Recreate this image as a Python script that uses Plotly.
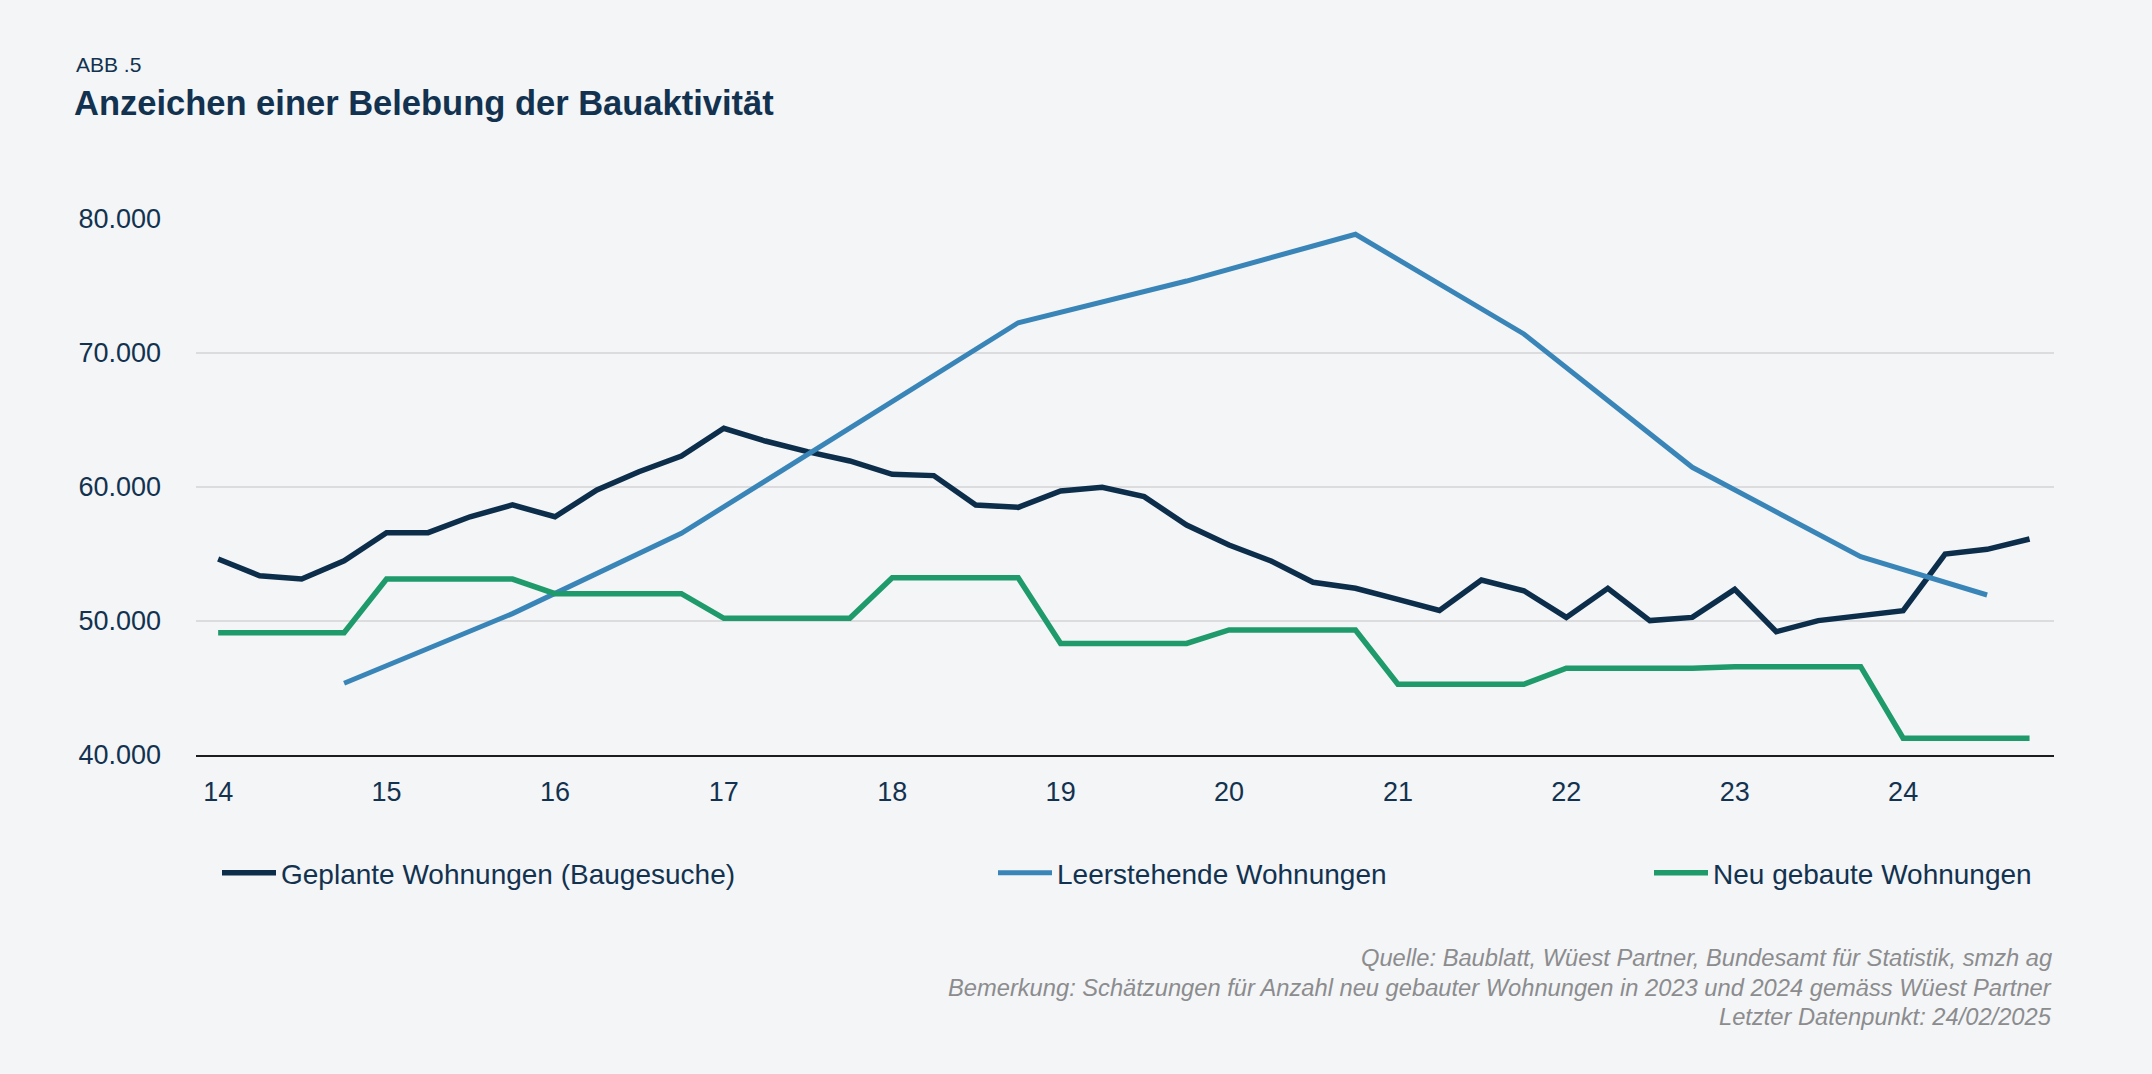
import pandas as pd
import plotly.graph_objects as go

# ---- data ----
quarters = pd.date_range("2014-01-01", periods=44, freq="QS")

geplante = [54630, 53380, 53130, 54500,
            56590, 56590, 57780, 58660,
            57780, 59780, 61140, 62310,
            64380, 63430, 62640, 61940,
            60950, 60850, 58660, 58480,
            59700, 59980, 59280, 57160,
            55670, 54480, 52890, 52440,
            51620, 50790, 53060, 52260,
            50270, 52440, 50030, 50270,
            52360, 49200, 50030, 50370,
            50770, 55000, 55350, 56120]

neu_gebaut = [49130, 49130, 49130, 49130,
              53130, 53130, 53130, 53130,
              52040, 52040, 52040, 52040,
              50200, 50200, 50200, 50200,
              53230, 53230, 53230, 53230,
              48330, 48330, 48330, 48330,
              49330, 49330, 49330, 49330,
              45280, 45280, 45280, 45280,
              46470, 46470, 46470, 46470,
              46590, 46590, 46590, 46590,
              41250, 41250, 41250, 41250]

leer_dates = ["2014-10-01", "2015-10-01", "2016-10-01", "2017-10-01", "2018-10-01",
              "2019-10-01", "2020-10-01", "2021-10-01", "2022-10-01", "2023-10-01",
              "2024-07-01"]
leerstehend = [45350, 50550, 56540, 64400, 72260, 75370, 78860, 71420, 61470, 54800, 51940]

y_ticks = [40000, 50000, 60000, 70000, 80000]
y_ticktext = ["40.000", "50.000", "60.000", "70.000", "80.000"]

names = ["Geplante Wohnungen (Baugesuche)", "Leerstehende Wohnungen", "Neu gebaute Wohnungen"]
colors = ["#0c2e4b", "#3a85b8", "#1f9a6b"]

# ---- figure ----
W, H = 2152, 1074
BG = "#f3f5f7"
NAVY = "#12324f"
FONT = "Liberation Sans, Arial, sans-serif"

fig = go.Figure()
fig.add_trace(go.Scatter(x=quarters, y=geplante, name=names[0], mode="lines",
                         line=dict(color=colors[0], width=5.5), legend="legend"))
fig.add_trace(go.Scatter(x=pd.to_datetime(leer_dates), y=leerstehend, name=names[1], mode="lines",
                         line=dict(color=colors[1], width=5), legend="legend2"))
fig.add_trace(go.Scatter(x=quarters, y=neu_gebaut, name=names[2], mode="lines",
                         line=dict(color=colors[2], width=5.5), legend="legend3"))

leg_common = dict(orientation="h", xref="container", yref="container", xanchor="left",
                  yanchor="middle", bgcolor="rgba(0,0,0,0)", itemwidth=54,
                  font=dict(family=FONT, size=28, color=NAVY))
leg_y = 1 - 873 / H

foot_font = dict(family=FONT, size=23.7, color="#8c8c8e")

fig.update_layout(
    width=W, height=H,
    paper_bgcolor=BG, plot_bgcolor=BG,
    margin=dict(l=196, r=98, t=219, b=319, autoexpand=False),
    showlegend=True,
    legend=dict(x=(281 - 64) / W, y=leg_y, **leg_common),
    legend2=dict(x=(1057 - 64) / W, y=leg_y, **leg_common),
    legend3=dict(x=(1713 - 64) / W, y=leg_y, **leg_common),
    xaxis=dict(
        type="date",
        range=["2013-11-14", "2024-11-23"],
        tickmode="linear", tick0="2014-01-01", dtick="M12", tickformat="%y",
        showgrid=False, zeroline=False,
        showline=True, linecolor="#1d1d1f", linewidth=2,
        ticks="", ticklabelstandoff=12,
        tickfont=dict(family=FONT, size=27, color=NAVY),
    ),
    yaxis=dict(
        range=[40000, 80000],
        tickvals=y_ticks, ticktext=y_ticktext,
        showgrid=True, gridcolor="#dcdcde", gridwidth=2,
        zeroline=False, showline=False, ticks="",
        ticklabelstandoff=34,
        tickfont=dict(family=FONT, size=27, color=NAVY),
    ),
    annotations=[
        dict(text="ABB .5", xref="paper", yref="paper", x=(74 - 196) / 1858, xanchor="left",
             y=(755 - 64.5) / 536, yanchor="middle", showarrow=False,
             font=dict(family=FONT, size=21, color=NAVY)),
        dict(text="<b>Anzeichen einer Belebung der Bauaktivität</b>", xref="paper", yref="paper",
             x=(72 - 196) / 1858, xanchor="left", y=(755 - 103) / 536, yanchor="middle",
             showarrow=False, font=dict(family=FONT, size=34.5, color=NAVY)),
        dict(text="<i>Quelle: Baublatt, Wüest Partner, Bundesamt für Statistik, smzh ag</i>",
             xref="paper", yref="paper", x=1, xanchor="right", y=(755 - 958) / 536, yanchor="middle",
             showarrow=False, font=foot_font),
        dict(text="<i>Bemerkung: Schätzungen für Anzahl neu gebauter Wohnungen in 2023 und 2024 gemäss Wüest Partner</i>",
             xref="paper", yref="paper", x=1, xanchor="right", y=(755 - 987.5) / 536, yanchor="middle",
             showarrow=False, font=foot_font),
        dict(text="<i>Letzter Datenpunkt: 24/02/2025</i>",
             xref="paper", yref="paper", x=1, xanchor="right", y=(755 - 1017) / 536, yanchor="middle",
             showarrow=False, font=foot_font),
    ],
)

fig.write_html(
    "out.html",
    config={"displayModeBar": False},
    post_script="document.body.style.margin='0';document.body.style.background='#f3f5f7';document.body.style.overflow='hidden';",
)
